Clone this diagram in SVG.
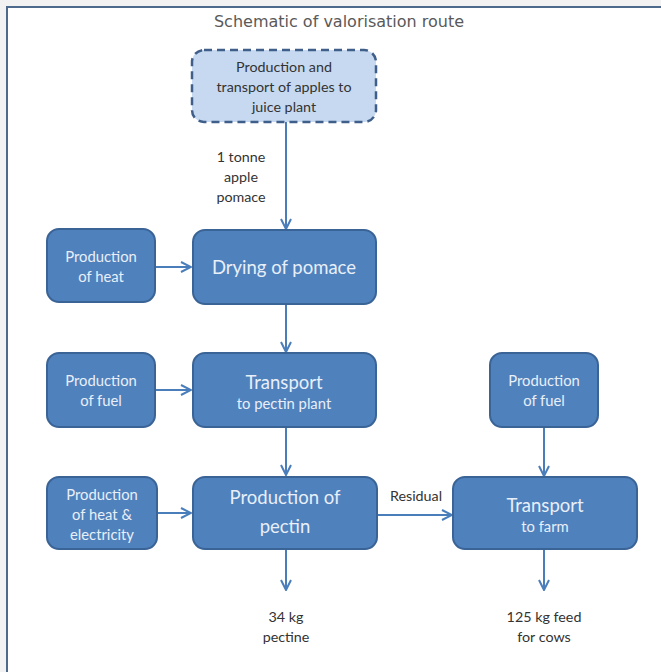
<svg xmlns="http://www.w3.org/2000/svg" width="661" height="672" viewBox="0 0 661 672">
<style>
.box{fill:#4f81bd;stroke:#3a6396;stroke-width:2}
.bt{font-family:Lato,"Open Sans",sans-serif;fill:#e8eff8;text-anchor:middle}
.s{font-size:14.8px}
.b{font-size:18.5px}
.lbl{font-family:Lato,"Open Sans",sans-serif;font-size:14.3px;fill:#333333;text-anchor:middle}
.ar{stroke:#4a7ebb;stroke-width:2;fill:none;marker-end:url(#ah)}
</style>
<defs>
<marker id="ah" viewBox="0 0 12 12" refX="11" refY="6" markerWidth="12" markerHeight="12" markerUnits="userSpaceOnUse" orient="auto">
<path d="M1,1 L11,6 L1,11" fill="none" stroke="#4a7ebb" stroke-width="2"/>
</marker>
</defs>
<rect x="0" y="0" width="661" height="672" fill="#f2f2f2"/>
<rect x="7" y="7" width="654" height="665" fill="#ffffff"/>
<path d="M7,672 L7,7 L661,7" fill="none" stroke="#4d6a8c" stroke-width="2"/>
<text x="339" y="27" font-family="DejaVu Sans,sans-serif" font-size="16" fill="#595959" text-anchor="middle">Schematic of valorisation route</text>

<g id="connectors">
<path class="ar" d="M286,122 L286,229"/>
<path class="ar" d="M155,267 L191,267"/>
<path class="ar" d="M286,304 L286,352"/>
<path class="ar" d="M155,390 L191,390"/>
<path class="ar" d="M286,427 L286,475"/>
<path class="ar" d="M157,513 L191,513"/>
<path class="ar" d="M377,515 L452,515"/>
<path class="ar" d="M544,427 L544,476"/>
<path class="ar" d="M286,549 L286,590"/>
<path class="ar" d="M544,549 L544,590"/>
<text class="lbl" x="241" y="162">1 tonne</text>
<text class="lbl" x="241" y="182">apple</text>
<text class="lbl" x="241" y="202">pomace</text>
<text class="lbl" x="416" y="501">Residual</text>
</g>

<g id="apples">
<rect x="192" y="50" width="184" height="72" rx="12" fill="#c6d9f1" stroke="#3f5f8a" stroke-width="2.5" stroke-dasharray="8,5"/>
<text class="lbl" x="284" y="72" fill="#1a1a1a">Production and</text>
<text class="lbl" x="284" y="92">transport of apples to</text>
<text class="lbl" x="284" y="112">juice plant</text>
</g>

<g id="drying">
<rect class="box" x="193" y="230" width="183" height="74" rx="12"/>
<text class="bt b" x="284" y="274">Drying of pomace</text>
</g>

<g id="heat">
<rect class="box" x="47" y="229" width="108" height="73" rx="12"/>
<text class="bt s" x="101" y="262">Production</text>
<text class="bt s" x="101" y="282">of heat</text>
</g>

<g id="transport1">
<rect class="box" x="193" y="353" width="183" height="74" rx="12"/>
<text class="bt b" x="284" y="389">Transport</text>
<text class="bt s" x="284" y="409">to pectin plant</text>
</g>

<g id="fuel1">
<rect class="box" x="47" y="353" width="108" height="74" rx="12"/>
<text class="bt s" x="101" y="386">Production</text>
<text class="bt s" x="101" y="406">of fuel</text>
</g>

<g id="pectin">
<rect class="box" x="193" y="477" width="184" height="72" rx="12"/>
<text class="bt b" x="285" y="504">Production of</text>
<text class="bt b" x="285" y="533">pectin</text>
</g>

<g id="heatelec">
<rect class="box" x="47" y="477" width="110" height="72" rx="12"/>
<text class="bt s" x="102" y="500">Production</text>
<text class="bt s" x="102" y="520">of heat &amp;</text>
<text class="bt s" x="102" y="540">electricity</text>
</g>

<g id="fuel2">
<rect class="box" x="490" y="353" width="108" height="74" rx="12"/>
<text class="bt s" x="544" y="386">Production</text>
<text class="bt s" x="544" y="406">of fuel</text>
</g>

<g id="transport2">
<rect class="box" x="453" y="477" width="184" height="72" rx="12"/>
<text class="bt b" x="545" y="512">Transport</text>
<text class="bt s" x="545" y="532">to farm</text>
</g>

<g id="out1">
<text class="lbl" x="286" y="622">34 kg</text>
<text class="lbl" x="286" y="642">pectine</text>
</g>
<g id="out2">
<text class="lbl" x="544" y="622">125 kg feed</text>
<text class="lbl" x="544" y="642">for cows</text>
</g>
</svg>
